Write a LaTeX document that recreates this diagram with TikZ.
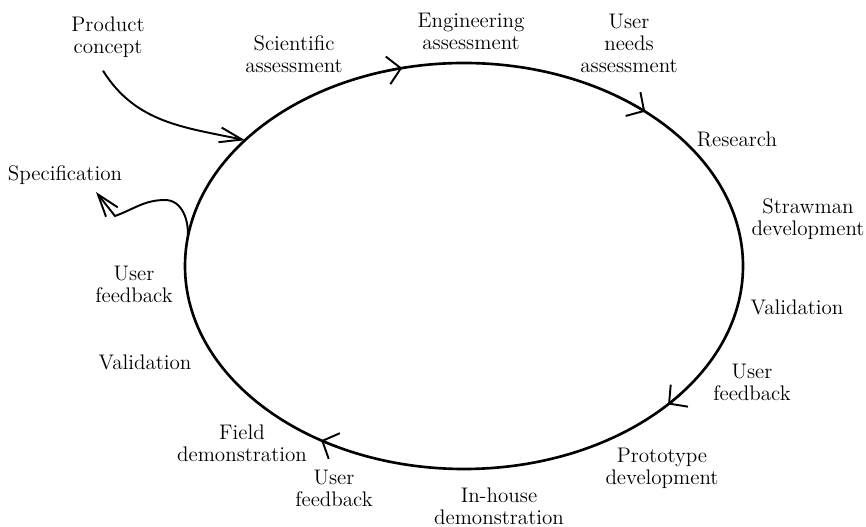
\documentclass[tikz,border=0pt]{standalone}
\usetikzlibrary{arrows.meta}
\tikzset{
  lbl/.style={align=center, inner sep=0pt, font=\fontsize{12}{12.5}\selectfont},
  ring/.style={line width=1.5pt},
  flow/.style={line width=1.1pt},
  ringtip/.style={line width=1.1pt, -{Straight Barb[length=0.26cm,width=0.56cm]}},
  flowtip/.style={-{Straight Barb[length=0.45cm,width=0.3cm]}},
}
\begin{document}
\begin{tikzpicture}[x=0.02cm,y=0.02cm]
  \useasboundingbox (0,0) rectangle (866,527);
  \coordinate (c) at (464,261);
  % stages round the cycle
  \node[lbl] (prod) at (108,490) {Product\\concept};
  \node[lbl] (sci) at (294,473) {Scientific\\assessment};
  \node[lbl] (eng) at (471,496) {Engineering\\assessment};
  \node[lbl] (needs) at (629,484) {User\\needs\\assessment};
  \node[lbl] (research) at (737,388) {Research};
  \node[lbl] (straw) at (808,308) {Strawman\\development};
  \node[lbl] (valr) at (797,220) {Validation};
  \node[lbl] (fbr) at (752,145) {User\\feedback};
  \node[lbl] (proto) at (662,59) {Prototype\\development};
  \node[lbl] (inhouse) at (499,21) {In-house\\demonstration};
  \node[lbl] (fbb) at (334,39) {User\\feedback};
  \node[lbl] (field) at (242,84) {Field\\demonstration};
  \node[lbl] (vall) at (145,165) {Validation};
  \node[lbl] (fbl) at (134,243) {User\\feedback};
  \node[lbl] (spec) at (65,352) {Specification};
  % the cycle
  \draw[ring] (c) ellipse [x radius=279, y radius=203];
  \foreach \a in {102.8,49.5,-43,-120.8}
    \draw[ringtip] (c) ++(\a+4:279 and 203) arc[start angle=\a+4, end angle=\a, x radius=279, y radius=203];
  % in and out
  \path (c) ++(141.7:279 and 203) coordinate (eprod);
  \path (c) ++(172:279 and 203) coordinate (espec);
  \coordinate (spectip) at (96,335);
  \draw[flow,flowtip] ([xshift=-0.1cm,yshift=-0.26cm]prod.south) to[out=-58,in=168] (eprod);
  \draw[flow,flowtip] (espec) to[out=85,in=0] (165,327) to[out=180,in=20] (115,311) -- (spectip);
\end{tikzpicture}
\end{document}
